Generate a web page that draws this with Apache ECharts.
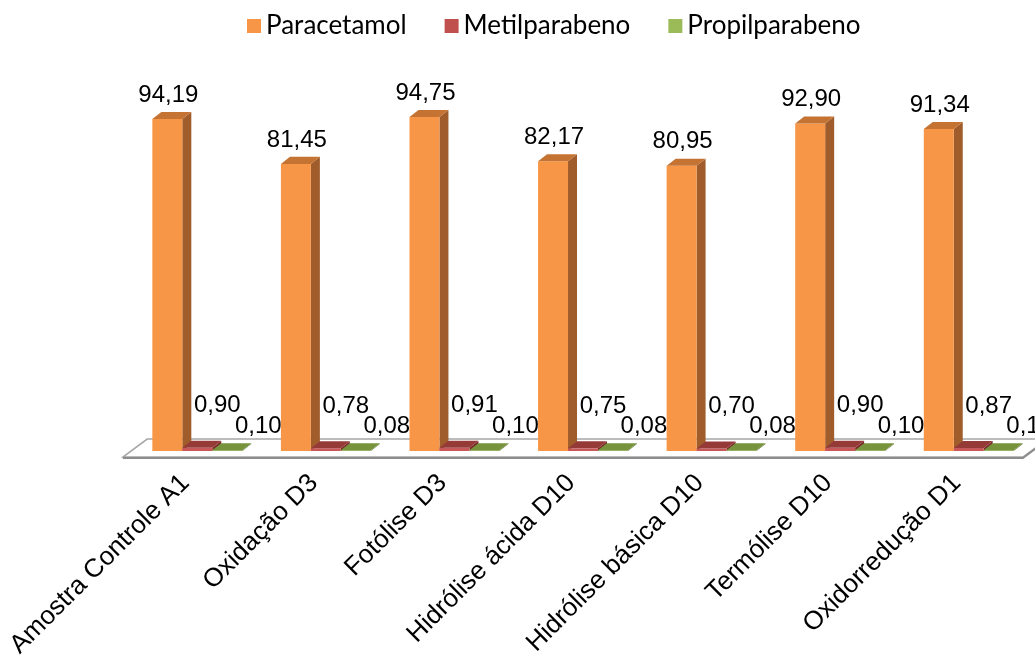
<!DOCTYPE html>
<html>
<head>
<meta charset="utf-8">
<script src="https://cdn.jsdelivr.net/npm/echarts@6/dist/echarts.min.js"></script>
<style>
  html, body { margin: 0; padding: 0; background: #ffffff; }
  #chart { width: 1035px; height: 661px; }
</style>
</head>
<body>
<div id="chart"></div>
<script>
// Categories and measured contents (%) per sample
const categories = [
  'Amostra Controle A1', 'Oxidação D3', 'Fotólise D3', 'Hidrólise ácida D10',
  'Hidrólise básica D10', 'Termólise D10', 'Oxidorredução D1'
];
const paracetamol    = [94.19, 81.45, 94.75, 82.17, 80.95, 92.90, 91.34];
const metilparabeno  = [0.90, 0.78, 0.91, 0.75, 0.70, 0.90, 0.87];
const propilparabeno = [0.10, 0.08, 0.10, 0.08, 0.08, 0.10, 0.10];

const LABEL_FONT = '24px "Liberation Sans", Arial, sans-serif';
const BAR_FRAC = 0.233;   // bar width as a fraction of a category band
const DEPTH_FRAC = 0.07;  // horizontal depth offset as a fraction of a band
const DEPTH_RATIO = 0.78; // vertical / horizontal depth offset

function fmt(v) { return v.toFixed(2).replace('.', ','); }

// Prism bar: front face, right side face, top face and value label
function prism(slot, faces, labelDx, labelDy) {
  return function (params, api) {
    const cat = api.value(0);
    const val = api.value(1);
    const base = api.coord([cat, 0]);
    const top = api.coord([cat, val]);
    const band = api.size([1, 0])[0];
    const w = band * BAR_FRAC;
    const dx = band * DEPTH_FRAC;
    const dy = dx * DEPTH_RATIO;
    const x0 = base[0] + (slot - 1.5) * w + 2;
    const x1 = x0 + w;
    const yb = base[1];
    const yt = Math.min(top[1], yb - 0.8);
    return {
      type: 'group',
      children: [
        { type: 'polygon', shape: { points: [[x1, yt], [x1 + dx, yt - dy], [x1 + dx, yb - dy], [x1, yb]] },
          style: { fill: faces.side } },
        { type: 'rect', shape: { x: x0, y: yt, width: w, height: yb - yt },
          style: { fill: faces.front } },
        { type: 'polygon', shape: { points: [[x0, yt], [x0 + dx, yt - dy], [x1 + dx, yt - dy], [x1, yt]] },
          style: { fill: faces.top } },
        { type: 'text', z2: 10,
          style: { text: fmt(val), x: x0 + w / 2 + labelDx, y: yt + labelDy,
                   align: 'center', verticalAlign: 'middle', font: LABEL_FONT, fill: '#000000' } }
      ]
    };
  };
}

// Floor plate beneath the bars, sized from the grid's coordinate system
function floor(params, api) {
  const cs = params.coordSys;
  const band = cs.width / categories.length;
  const dx = band * DEPTH_FRAC;
  const dy = dx * DEPTH_RATIO;
  const yb = cs.y + cs.height;
  const xl = cs.x, xr = cs.x + cs.width;
  const f = [-0.9 * dx, 0.86 * dy];
  const b = [1.8 * dx, -1.7 * dy];
  const pts = [
    [xl + f[0], yb + f[1]], [xr + f[0], yb + f[1]],
    [xr + b[0], yb + b[1]], [xl + b[0], yb + b[1]]
  ];
  return {
    type: 'group',
    children: [
      { type: 'polygon', shape: { points: pts },
        style: { fill: '#ffffff', stroke: '#a6a6a6', lineWidth: 1.5 } },
      { type: 'polyline', shape: { points: [[xl + f[0], yb + f[1] + 1], [xr + f[0], yb + f[1] + 1], [xr + b[0], yb + b[1] + 1]] },
        style: { fill: null, stroke: '#8c8c8c', lineWidth: 2 } }
    ]
  };
}

function seriesData(values) { return values.map((v, i) => [i, v]); }

const chart = echarts.init(document.getElementById('chart'));
chart.setOption({
  animation: false,
  backgroundColor: '#ffffff',
  legend: {
    top: 8,
    left: 242,
    icon: 'rect',
    itemWidth: 14,
    itemHeight: 14,
    itemGap: 38,
    textStyle: { fontFamily: 'Lato, "Open Sans", sans-serif', fontSize: 26, color: '#000000' },
    data: [
      { name: 'Paracetamol', itemStyle: { color: '#f79646' } },
      { name: 'Metilparabeno', itemStyle: { color: '#c0504d' } },
      { name: 'Propilparabeno', itemStyle: { color: '#9bbb59' } }
    ]
  },
  grid: { left: 131, right: 4, top: 98.5, bottom: 210 },
  xAxis: {
    type: 'category',
    data: categories,
    axisLine: { show: false },
    axisTick: { show: false },
    splitLine: { show: false },
    axisLabel: {
      interval: 0, rotate: 45, margin: 18, padding: [0, 14, 0, 0],
      fontFamily: '"Liberation Sans", Arial, sans-serif', fontSize: 26, color: '#000000'
    }
  },
  yAxis: { type: 'value', min: 0, max: 100, show: false, splitLine: { show: false } },
  series: [
    { type: 'custom', name: 'floor', silent: true, renderItem: floor, data: [[0, 0]] },
    { type: 'custom', name: 'Paracetamol', itemStyle: { color: '#f79646' },
      renderItem: prism(0, { front: '#f79646', side: '#a05c2a', top: '#c47333' }, 1, -24),
      data: seriesData(paracetamol) },
    { type: 'custom', name: 'Metilparabeno', itemStyle: { color: '#c0504d' },
      renderItem: prism(1, { front: '#c8575a', side: '#7a2b2a', top: '#963a38' }, 20, -42),
      data: seriesData(metilparabeno) },
    { type: 'custom', name: 'Propilparabeno', itemStyle: { color: '#9bbb59' },
      renderItem: prism(2, { front: '#8fae50', side: '#5c7330', top: '#77933c' }, 31, -24),
      data: seriesData(propilparabeno) }
  ]
});
</script>
</body>
</html>
